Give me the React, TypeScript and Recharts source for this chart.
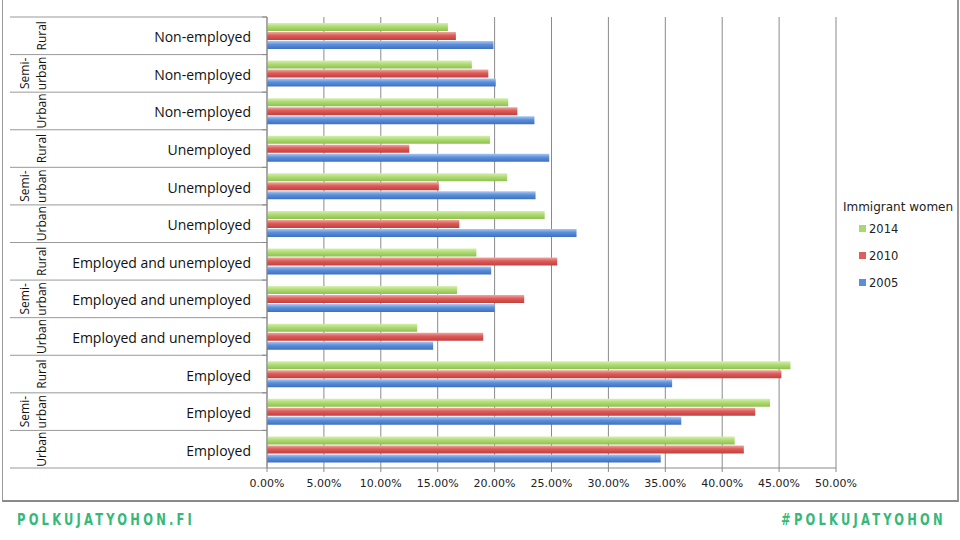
import React from 'react';
import { BarChart, Bar, XAxis, YAxis, CartesianGrid, Legend } from 'recharts';

const groups = ['Rural', 'Semi-urban', 'Urban', 'Rural', 'Semi-urban', 'Urban', 'Rural', 'Semi-urban', 'Urban', 'Rural', 'Semi-urban', 'Urban'];
const statuses = ['Non-employed', 'Non-employed', 'Non-employed', 'Unemployed', 'Unemployed', 'Unemployed', 'Employed and unemployed', 'Employed and unemployed', 'Employed and unemployed', 'Employed', 'Employed', 'Employed'];
const values2014 = [15.9, 18.0, 21.2, 19.6, 21.1, 24.4, 18.4, 16.7, 13.2, 46.0, 44.2, 41.1];
const values2010 = [16.6, 19.45, 22.0, 12.5, 15.1, 16.9, 25.5, 22.6, 19.0, 45.2, 42.9, 41.9];
const values2005 = [19.9, 20.1, 23.5, 24.8, 23.6, 27.2, 19.7, 20.0, 14.6, 35.6, 36.4, 34.6];
const xTicks = [0, 5, 10, 15, 20, 25, 30, 35, 40, 45, 50];
const legendTitle = 'Immigrant women';

const data = statuses.map((s, i) => ({
  id: `r${i}`,
  y2014: values2014[i],
  y2010: values2010[i],
  y2005: values2005[i],
}));

const PLOT_TOP = 17;
const PLOT_BOTTOM = 468;
const ROW_H = (PLOT_BOTTOM - PLOT_TOP) / statuses.length;
const AXIS_X = 267;

const catFont = "'Open Sans', 'Noto Sans', sans-serif";

const CategoryTick = (props: any) => {
  const { y, payload } = props;
  const i = payload.index;
  const group = groups[i];
  const status = statuses[i];
  const top = y - ROW_H / 2;
  const bottom = y + ROW_H / 2;
  const groupLines = group === 'Semi-urban' ? ['Semi-', 'urban'] : [group];
  return (
    <g>
      <line x1={10} x2={AXIS_X} y1={bottom} y2={bottom} stroke="#999" strokeWidth={1} />
      {i === 0 && <line x1={10} x2={AXIS_X} y1={top} y2={top} stroke="#999" strokeWidth={1} />}
      <line x1={AXIS_X - 5} x2={AXIS_X} y1={top} y2={top} stroke="#888" />
      <text x={251} y={y + 1} textAnchor="end" dominantBaseline="central" fontFamily={catFont} fontSize={14} fill="#111">
        {status}
      </text>
      {groupLines.length === 1 ? (
        <text transform={`translate(41, ${y}) rotate(-90)`} textAnchor="middle" dominantBaseline="central" fontFamily={catFont} fontSize={12} fill="#111">
          {groupLines[0]}
        </text>
      ) : (
        <>
          <text transform={`translate(24, ${y}) rotate(-90)`} textAnchor="middle" dominantBaseline="central" fontFamily={catFont} fontSize={12} fill="#111">
            {groupLines[0]}
          </text>
          <text transform={`translate(41, ${y}) rotate(-90)`} textAnchor="middle" dominantBaseline="central" fontFamily={catFont} fontSize={12} fill="#111">
            {groupLines[1]}
          </text>
        </>
      )}
    </g>
  );
};

const legendItems = [
  { label: '2014', color: '#a9d86e' },
  { label: '2010', color: '#dc5f5c' },
  { label: '2005', color: '#5a8edb' },
];

const LegendContent = () => (
  <div style={{ fontFamily: "'DejaVu Sans', sans-serif", color: '#222' }}>
    <div style={{ fontSize: 12, textAlign: 'center', lineHeight: '16px', whiteSpace: 'nowrap' }}>{legendTitle}</div>
    {legendItems.map((it) => (
      <div key={it.label} style={{ display: 'flex', alignItems: 'center', height: 27, marginLeft: 23, fontSize: 11.5 }}>
        <span style={{ display: 'inline-block', width: 7, height: 7, background: it.color, marginRight: 3 }} />
        <span>{it.label}</span>
      </div>
    ))}
  </div>
);

const footerStyle: React.CSSProperties = {
  position: 'absolute',
  top: 511,
  fontFamily: "'DejaVu Sans Condensed', 'DejaVu Sans', sans-serif",
  fontWeight: 'bold',
  fontSize: 15,
  letterSpacing: 3.8,
  color: '#36b978',
  whiteSpace: 'nowrap',
};

export default function App() {
  return (
    <div style={{ position: 'fixed', left: 0, top: 0, width: 960, height: 540, background: '#fff', overflow: 'hidden' }}>
      <div style={{ position: 'absolute', left: 2, top: -1, width: 954, height: 500, border: '1px solid #9a9a9a', borderRight: '2px solid #999', borderBottom: '2px solid #8a8a8a' }} />
      <div style={{ position: 'absolute', left: 0, top: 0 }}>
        <BarChart
          width={960}
          height={540}
          data={data}
          layout="vertical"
          margin={{ top: PLOT_TOP, right: 124, bottom: 42, left: 0 }}
          barSize={8}
          barGap={1}
        >
          <defs>
            <linearGradient id="g2014" x1="0" y1="0" x2="0" y2="1">
              <stop offset="0%" stopColor="#d6f0ae" />
              <stop offset="45%" stopColor="#aedb72" />
              <stop offset="100%" stopColor="#8fc052" />
            </linearGradient>
            <linearGradient id="g2010" x1="0" y1="0" x2="0" y2="1">
              <stop offset="0%" stopColor="#f2a7a4" />
              <stop offset="45%" stopColor="#dc5a57" />
              <stop offset="100%" stopColor="#c23f3c" />
            </linearGradient>
            <linearGradient id="g2005" x1="0" y1="0" x2="0" y2="1">
              <stop offset="0%" stopColor="#a9c8f2" />
              <stop offset="45%" stopColor="#5a8edb" />
              <stop offset="100%" stopColor="#3f70c0" />
            </linearGradient>
          </defs>
          <CartesianGrid horizontal={false} stroke="#8a8a8a" />
          <XAxis
            type="number"
            domain={[0, 50]}
            ticks={xTicks}
            interval={0}
            tickFormatter={(v: number) => `${v.toFixed(2)}%`}
            axisLine={{ stroke: '#8a8a8a' }}
            tickLine={{ stroke: '#8a8a8a' }}
            tickSize={4}
            tickMargin={7}
            height={30}
            tick={{ fontFamily: "'DejaVu Sans', sans-serif", fontSize: 11, fill: '#222' }}
          />
          <YAxis
            type="category"
            dataKey="id"
            width={AXIS_X}
            axisLine={{ stroke: '#8a8a8a' }}
            tickLine={false}
            interval={0}
            tick={<CategoryTick />}
          />
          <Legend
            layout="horizontal"
            verticalAlign="middle"
            align="center"
            wrapperStyle={{ left: 836, top: 199, width: 124, height: 100 }}
            content={<LegendContent />}
          />
          <Bar dataKey="y2014" name="2014" fill="url(#g2014)" isAnimationActive={false} />
          <Bar dataKey="y2010" name="2010" fill="url(#g2010)" isAnimationActive={false} />
          <Bar dataKey="y2005" name="2005" fill="url(#g2005)" isAnimationActive={false} />
        </BarChart>
      </div>
      <div style={{ ...footerStyle, left: 17, transform: 'scaleX(0.85)', transformOrigin: 'left center' }}>POLKUJATYOHON.FI</div>
      <div style={{ ...footerStyle, right: 14, transform: 'scaleX(0.85)', transformOrigin: 'right center' }}>#POLKUJATYOHON</div>
    </div>
  );
}
